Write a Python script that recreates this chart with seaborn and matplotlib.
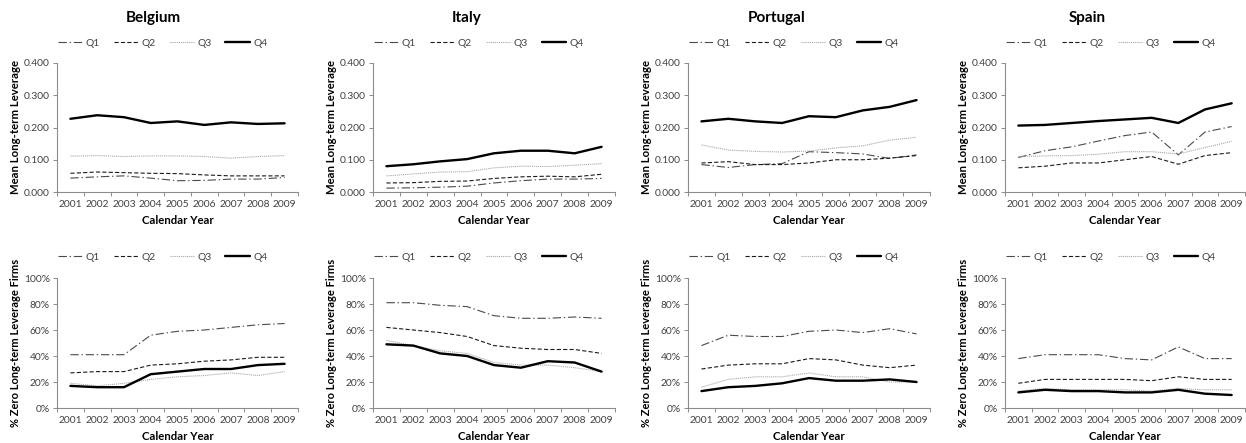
import numpy as np
import pandas as pd
import seaborn as sns
import matplotlib
matplotlib.use("Agg")
import matplotlib.pyplot as plt
from matplotlib.ticker import FuncFormatter, FixedLocator

sns.set_theme(style="white")
plt.rcParams["font.family"] = ["Lato", "DejaVu Sans"]
plt.rcParams["lines.scale_dashes"] = False

years = ["2001", "2002", "2003", "2004", "2005", "2006", "2007", "2008", "2009"]
countries = ["Belgium", "Italy", "Portugal", "Spain"]
quartiles = ["Q1", "Q2", "Q3", "Q4"]

# Mean long-term leverage by size quartile
lev_belgium = {
    "Q1": [0.043, 0.047, 0.050, 0.043, 0.035, 0.036, 0.040, 0.040, 0.045],
    "Q2": [0.058, 0.062, 0.060, 0.058, 0.057, 0.053, 0.050, 0.050, 0.050],
    "Q3": [0.111, 0.113, 0.110, 0.112, 0.112, 0.110, 0.105, 0.110, 0.113],
    "Q4": [0.227, 0.238, 0.232, 0.214, 0.219, 0.208, 0.216, 0.211, 0.213],
}
lev_italy = {
    "Q1": [0.012, 0.013, 0.015, 0.018, 0.028, 0.035, 0.040, 0.040, 0.042],
    "Q2": [0.028, 0.029, 0.033, 0.034, 0.042, 0.047, 0.049, 0.047, 0.055],
    "Q3": [0.050, 0.056, 0.062, 0.063, 0.075, 0.080, 0.079, 0.083, 0.088],
    "Q4": [0.080, 0.086, 0.095, 0.102, 0.120, 0.128, 0.128, 0.120, 0.140],
}
lev_portugal = {
    "Q1": [0.085, 0.076, 0.085, 0.088, 0.125, 0.122, 0.118, 0.104, 0.115],
    "Q2": [0.090, 0.094, 0.085, 0.085, 0.090, 0.100, 0.100, 0.105, 0.113],
    "Q3": [0.146, 0.130, 0.126, 0.124, 0.127, 0.137, 0.143, 0.161, 0.170],
    "Q4": [0.219, 0.227, 0.219, 0.214, 0.235, 0.232, 0.253, 0.264, 0.285],
}
lev_spain = {
    "Q1": [0.107, 0.128, 0.140, 0.158, 0.175, 0.186, 0.115, 0.186, 0.203],
    "Q2": [0.075, 0.080, 0.090, 0.090, 0.100, 0.110, 0.086, 0.113, 0.122],
    "Q3": [0.110, 0.112, 0.113, 0.117, 0.125, 0.125, 0.118, 0.138, 0.157],
    "Q4": [0.206, 0.208, 0.214, 0.220, 0.225, 0.230, 0.214, 0.256, 0.275],
}

# Share of firms with zero long-term leverage (%)
zero_belgium = {
    "Q1": [41, 41, 41, 56, 59, 60, 62, 64, 65],
    "Q2": [27, 28, 28, 33, 34, 36, 37, 39, 39],
    "Q3": [19, 17, 19, 22, 24, 25, 27, 25, 28],
    "Q4": [17, 16, 16, 26, 28, 30, 30, 33, 34],
}
zero_italy = {
    "Q1": [81, 81, 79, 78, 71, 69, 69, 70, 69],
    "Q2": [62, 60, 58, 55, 48, 46, 45, 45, 42],
    "Q3": [52, 48, 44, 42, 35, 33, 33, 31, 28],
    "Q4": [49, 48, 42, 40, 33, 31, 36, 35, 28],
}
zero_portugal = {
    "Q1": [48, 56, 55, 55, 59, 60, 58, 61, 57],
    "Q2": [30, 33, 34, 34, 38, 37, 33, 31, 33],
    "Q3": [16, 22, 24, 24, 27, 24, 24, 20, 20],
    "Q4": [13, 16, 17, 19, 23, 21, 21, 22, 20],
}
zero_spain = {
    "Q1": [38, 41, 41, 41, 38, 37, 47, 38, 38],
    "Q2": [19, 22, 22, 22, 22, 21, 24, 22, 22],
    "Q3": [13, 15, 14, 14, 14, 13, 15, 14, 14],
    "Q4": [12, 14, 13, 13, 12, 12, 14, 11, 10],
}

leverage = [lev_belgium, lev_italy, lev_portugal, lev_spain]
zero_share = [zero_belgium, zero_italy, zero_portugal, zero_spain]

line_styles = {
    "Q1": dict(color="#4a4a4a", linewidth=0.8, linestyle=(0, (6, 2, 1, 2))),
    "Q2": dict(color="#1a1a1a", linewidth=0.8, linestyle=(0, (3, 1.6))),
    "Q3": dict(color="#a8a8a8", linewidth=0.8, linestyle=(0, (0.8, 0.7))),
    "Q4": dict(color="#000000", linewidth=1.7, linestyle="-"),
}

W, H = 1246, 443
fig = plt.figure(figsize=(W / 100, H / 100), dpi=100)

col_left = [57, 373, 688, 1005]
col_right = [298, 615, 930, 1245]
title_x = [153, 467, 777, 1087]
rows = [(63, 192), (278, 408)]

tick_color = "#404040"
spine_color = "#8c8c8c"


def px_axes(left, top, right, bottom):
    return fig.add_axes([left / W, 1 - bottom / H, (right - left) / W, (bottom - top) / H])


def style_axes(ax, width_px, height_px):
    ax.set_xlim(-0.5, len(years) - 0.5)
    ax.set_xticks(range(len(years)))
    ax.set_xticklabels(years)
    ax.xaxis.set_minor_locator(FixedLocator(np.arange(-0.5, len(years), 1.0)))
    ax.tick_params(axis="x", which="major", length=0, pad=6, labelsize=7.4, labelcolor=tick_color)
    ax.tick_params(axis="x", which="minor", length=3, width=0.7, color=spine_color, direction="out", bottom=True)
    ax.tick_params(axis="y", which="major", length=3, width=0.7, color=spine_color, direction="out",
                   left=True, pad=2, labelsize=7.4, labelcolor=tick_color)
    for side in ("top", "right"):
        ax.spines[side].set_visible(False)
    for side in ("left", "bottom"):
        ax.spines[side].set_color(spine_color)
        ax.spines[side].set_linewidth(0.8)
    ax.grid(False)
    ax.set_xlabel("Calendar Year", fontsize=8.2, fontweight="bold", color="black")
    ax.xaxis.set_label_coords(0.5, -23 / height_px)


for col, country in enumerate(countries):
    fig.text(title_x[col] / W, 1 - 18 / H, country, ha="center", va="center",
             fontsize=11, fontweight="bold", color="black")
    for row, (top, bottom) in enumerate(rows):
        ax = px_axes(col_left[col], top, col_right[col], bottom)
        series = leverage[col] if row == 0 else zero_share[col]
        for q in quartiles:
            df = pd.DataFrame({"pos": np.arange(len(years)), "value": series[q]})
            sns.lineplot(data=df, x="pos", y="value", ax=ax, label=q, **line_styles[q])
        width_px = col_right[col] - col_left[col]
        height_px = bottom - top
        style_axes(ax, width_px, height_px)
        if row == 0:
            ax.set_ylim(0, 0.4)
            ax.set_yticks([0, 0.1, 0.2, 0.3, 0.4])
            ax.yaxis.set_major_formatter(FuncFormatter(lambda v, p: f"{v:.3f}"))
            ylabel = "Mean Long-term Leverage"
            leg_y = 43
            ylabel_size = 8.2
        else:
            ax.set_ylim(0, 100)
            ax.set_yticks([0, 20, 40, 60, 80, 100])
            ax.yaxis.set_major_formatter(FuncFormatter(lambda v, p: f"{v:.0f}%"))
            ylabel = "% Zero Long-term Leverage Firms"
            leg_y = 257
            ylabel_size = 8.0
        ax.set_ylabel(ylabel, fontsize=ylabel_size, fontweight="bold", color="black")
        ax.yaxis.set_label_coords(-36 / width_px, 0.5)

        handles, labels = ax.get_legend_handles_labels()
        ax.legend_.remove()
        fig.legend(handles, labels, loc="center left",
                   bbox_to_anchor=((col_left[col] + 1) / W, 1 - leg_y / H),
                   ncol=4, frameon=False, fontsize=7.4, handlelength=2.4,
                   handletextpad=0.3, columnspacing=1.35, borderpad=0,
                   borderaxespad=0, labelcolor=tick_color)

fig.savefig("out.png", dpi=100)
